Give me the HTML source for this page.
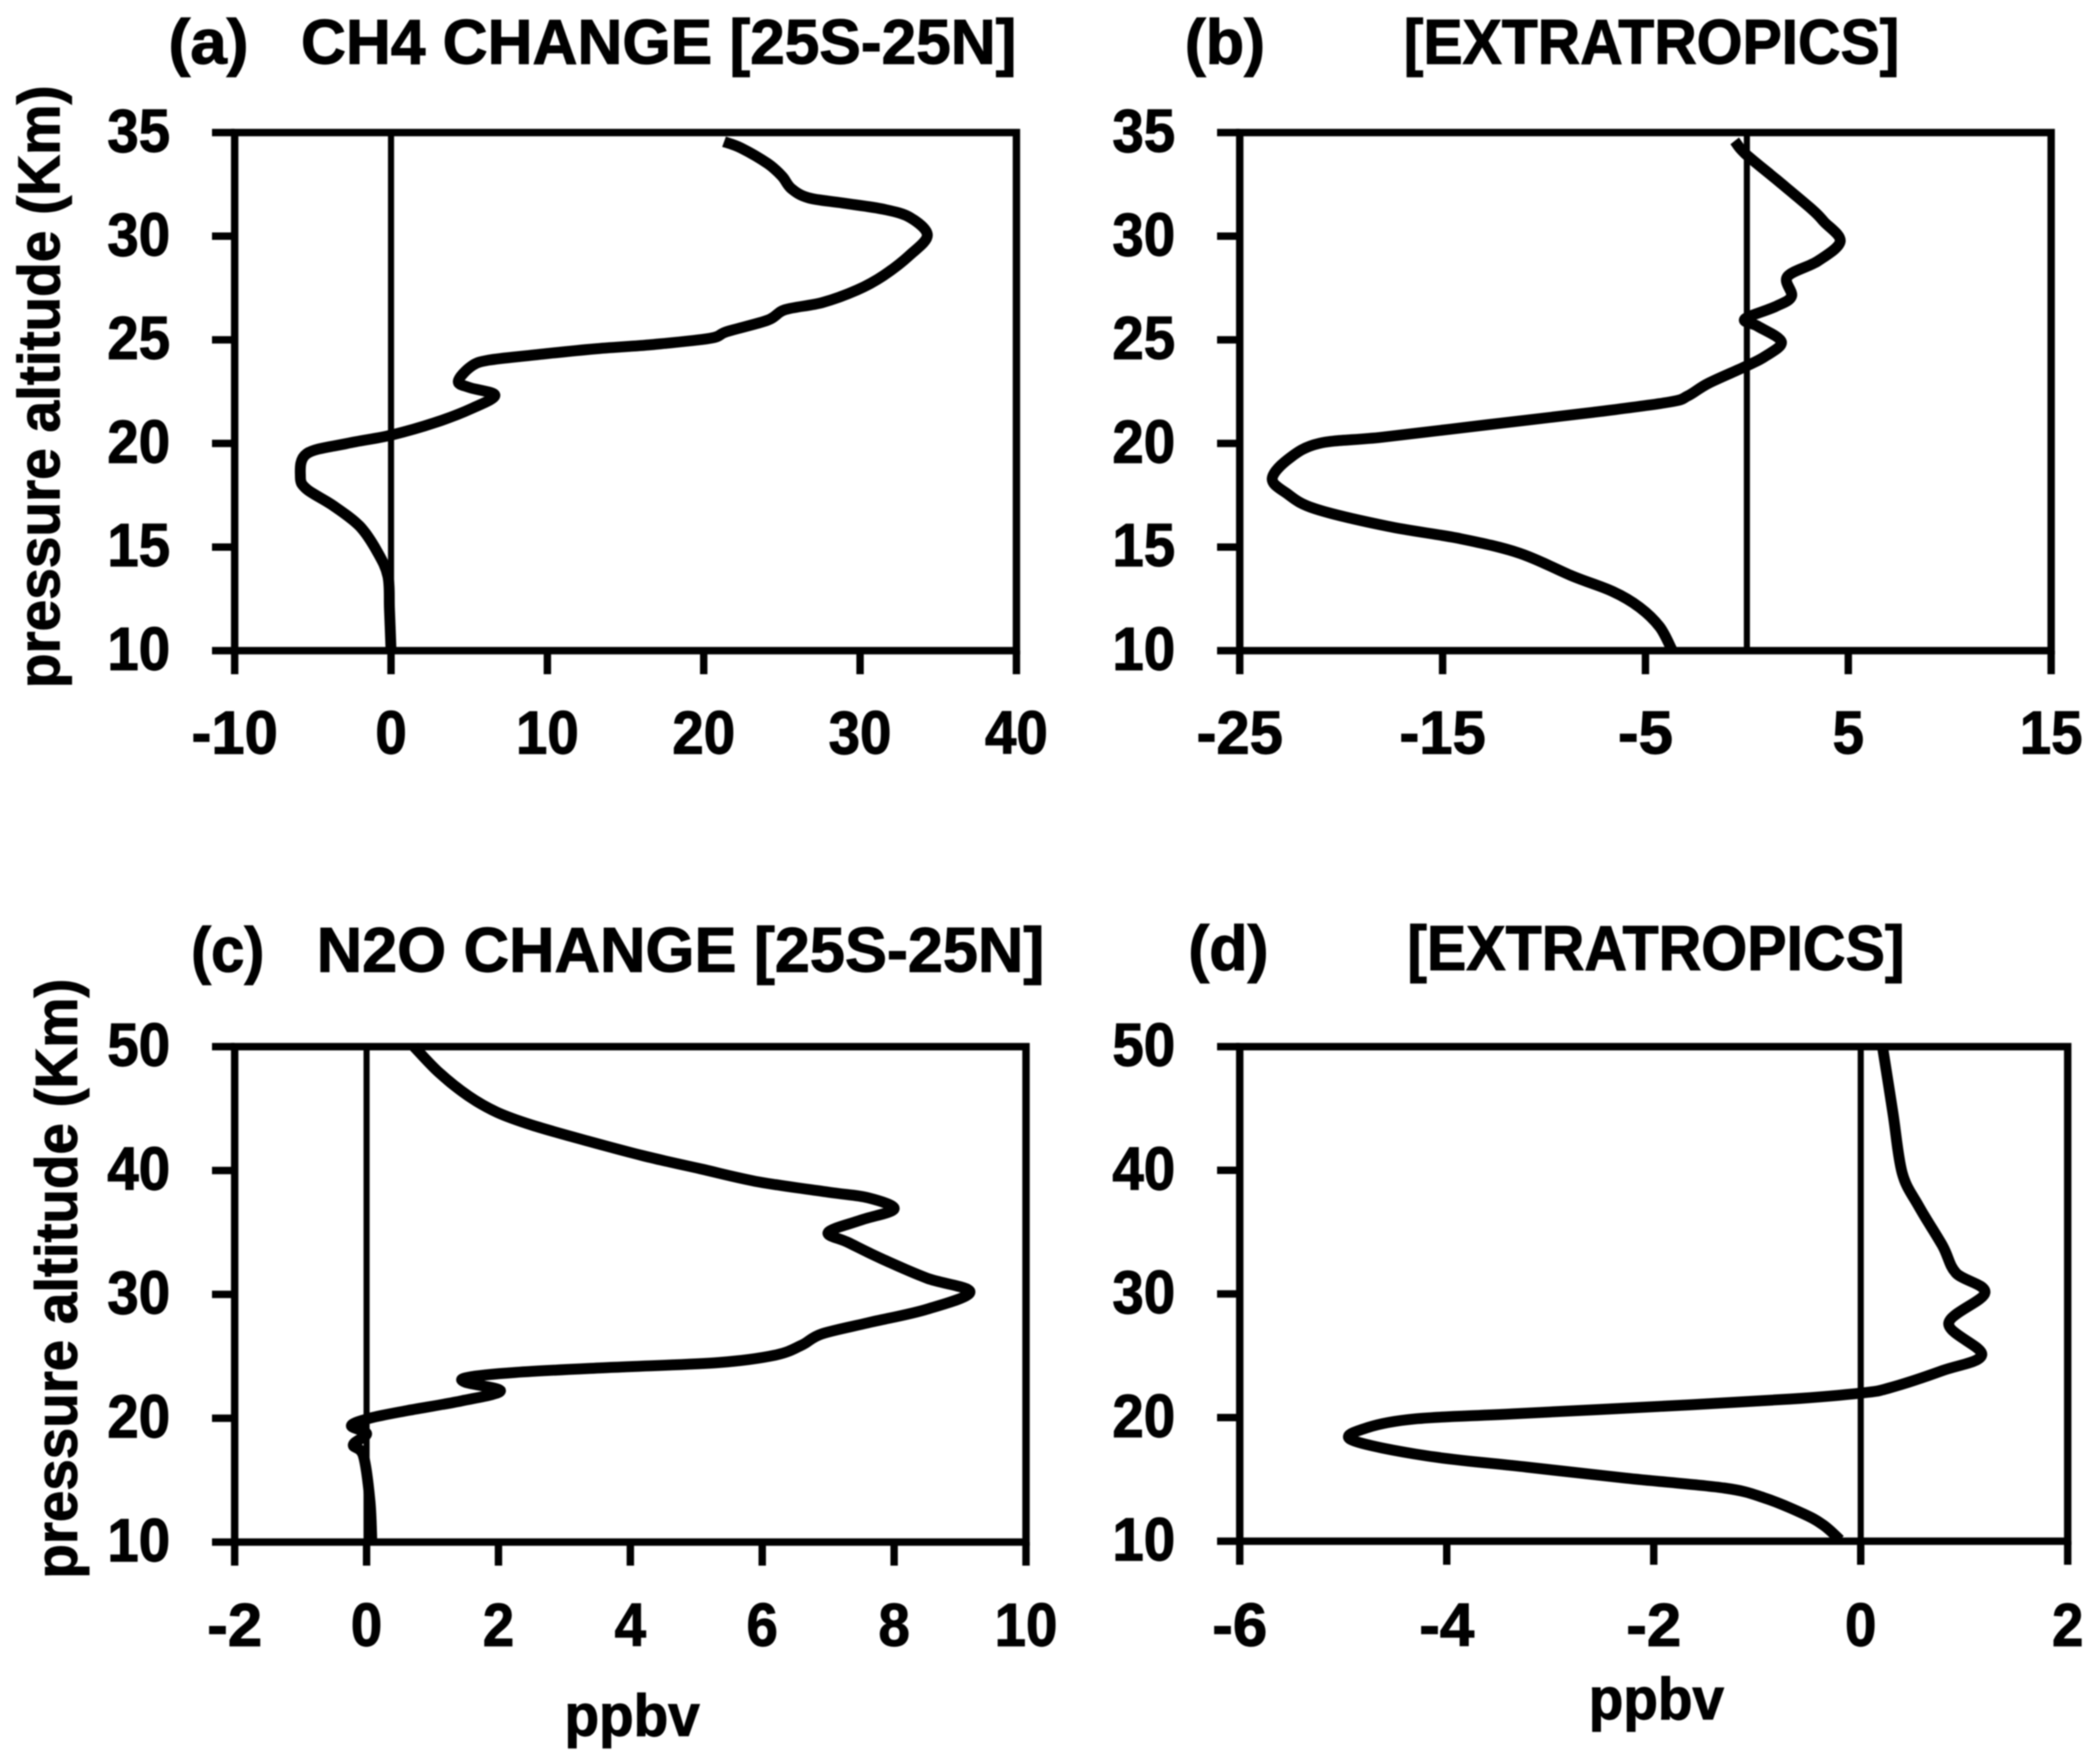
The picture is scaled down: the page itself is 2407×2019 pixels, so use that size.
<!DOCTYPE html>
<html>
<head>
<meta charset="utf-8">
<title>CH4 and N2O change profiles</title>
<style>
html,body{margin:0;padding:0;background:#fff;}
svg{display:block;filter:blur(0.7px);}
text{font-family:"Liberation Sans",sans-serif;font-weight:bold;fill:#000;stroke:#000;stroke-width:1.2px;}
</style>
</head>
<body>
<svg id="chart" xmlns="http://www.w3.org/2000/svg" width="2407" height="2019" viewBox="0 0 2407 2019">
<rect x="0" y="0" width="2407" height="2019" fill="#fff"/>
<text x="193" y="73" font-size="72" textLength="92" lengthAdjust="spacingAndGlyphs">(a)</text>
<text x="345" y="73" font-size="72" textLength="820" lengthAdjust="spacingAndGlyphs">CH4 CHANGE [25S-25N]</text>
<text x="1358" y="73" font-size="72" textLength="92" lengthAdjust="spacingAndGlyphs">(b)</text>
<text x="1609" y="73" font-size="72" textLength="568" lengthAdjust="spacingAndGlyphs">[EXTRATROPICS]</text>
<text x="219" y="1114" font-size="72" textLength="84" lengthAdjust="spacingAndGlyphs">(c)</text>
<text x="363" y="1114" font-size="72" textLength="834" lengthAdjust="spacingAndGlyphs">N2O CHANGE [25S-25N]</text>
<text x="1362" y="1112" font-size="72" textLength="92" lengthAdjust="spacingAndGlyphs">(d)</text>
<text x="1613" y="1112" font-size="72" textLength="570" lengthAdjust="spacingAndGlyphs">[EXTRATROPICS]</text>
<text transform="translate(68,789) rotate(-90)" font-size="68" textLength="691" lengthAdjust="spacingAndGlyphs">pressure altitude (Km)</text>
<text transform="translate(88,1810) rotate(-90)" font-size="68" textLength="688" lengthAdjust="spacingAndGlyphs">pressure altitude (Km)</text>
<text x="647" y="1990" font-size="68" textLength="155" lengthAdjust="spacingAndGlyphs">ppbv</text>
<text x="1821" y="1971" font-size="68" textLength="155" lengthAdjust="spacingAndGlyphs">ppbv</text>
</svg>
<script>
var ticksXA = [-10, 0, 10, 20, 30, 40];
var ticksYA = [10, 15, 20, 25, 30, 35];
var altitudeA = [34.56, 34.25, 33.5, 32.9, 32.3, 31.85, 31.6, 31.3, 30.9, 30.05, 29.1, 28.1, 27.4, 26.8, 26.45, 25.95, 25.4, 25.07, 24.77, 24.56, 24.27, 24.02, 23.72, 23, 22.7, 22.33, 21.7, 21, 20.4, 20, 19.5, 18.4, 17.8, 17, 16, 14.8, 13.6, 12, 10];
var valueA = [21.3, 22.4, 24.1, 25, 25.6, 26.7, 28.9, 31.5, 33.2, 34.3, 33.2, 31.5, 29.8, 27.6, 25.2, 24.1, 21.5, 20.4, 16.7, 12.95, 9.2, 6.25, 5.13, 4.3, 5, 6.64, 5.2, 2.8, 0, -2.8, -5.4, -5.8, -5.4, -3.7, -2, -0.9, -0.2, -0.1, 0];

var ticksXB = [-25, -15, -5, 5, 15];
var ticksYB = [10, 15, 20, 25, 30, 35];
var altitudeB = [34.6, 34, 32.7, 31.3, 30.7, 29.75, 28.8, 28.05, 27.1, 26.6, 26, 25.65, 24.9, 24.2, 23.7, 22.9, 22.3, 22, 21.5, 20.9, 20.3, 20, 19.25, 18.3, 17.6, 16.85, 16, 15.4, 14.7, 13.6, 12.85, 12.1, 11.15, 10.05];
var valueB = [-0.6, -0.1, 1.5, 3.2, 3.8, 4.6, 3.5, 2, 2.2, 1.4, -0.1, 0.55, 1.7, 0.9, -0.1, -1.9, -2.9, -3.8, -7.6, -12.8, -18, -21.1, -22.6, -23.4, -22.7, -21.3, -17.7, -14.1, -11.2, -8.6, -6.6, -5.3, -4.3, -3.7];

var ticksXC = [-2, 0, 2, 4, 6, 8, 10];
var ticksYC = [10, 20, 30, 40, 50];
var altitudeC = [50, 47.9, 46, 44.7, 43.66, 42.46, 41.2, 40.14, 39.08, 38.25, 37.8, 36.9, 36, 35, 34.2, 32.9, 31.3, 30.2, 28.8, 27.7, 26.8, 25.9, 25.1, 24.5, 24.1, 23.7, 23.3, 22.9, 22.2, 21.4, 20.6, 20, 19.4, 18.75, 17.85, 17, 13.4, 10];
var valueC = [0.72, 1.1, 1.55, 1.98, 2.51, 3.3, 4.19, 5.06, 5.95, 7, 7.6, 8, 7.5, 7, 7.3, 7.8, 8.5, 9.15, 8.5, 7.6, 6.9, 6.6, 6.2, 5.35, 3.7, 2.26, 1.54, 1.5, 2.03, 1.44, 0.6, 0.05, -0.23, 0, -0.2, -0.05, 0.05, 0.08];

var ticksXD = [-6, -4, -2, 0, 2];
var ticksYD = [10, 20, 30, 40, 50];
var altitudeD = [50, 44.7, 39.8, 37.1, 33.9, 31.7, 30.1, 27.6, 25.1, 23.8, 22.4, 22, 21.5, 20.9, 20.3, 19.9, 19.2, 18.2, 16.9, 16, 15.1, 14.3, 13.5, 12.2, 11.3, 10.1];
var valueD = [0.21, 0.31, 0.4, 0.56, 0.79, 0.92, 1.2, 0.85, 1.17, 0.79, 0.28, 0.02, -0.68, -1.95, -3.36, -4.3, -4.76, -4.92, -4.19, -3.23, -2.27, -1.32, -0.93, -0.55, -0.36, -0.2];

var SVG_NS = 'http://www.w3.org/2000/svg';
var chart = document.getElementById('chart');

function make(tag, attrs) {
  var el = document.createElementNS(SVG_NS, tag);
  for (var k in attrs) { el.setAttribute(k, attrs[k]); }
  return el;
}

function labelWidth(label) {
  var s = String(label);
  var w = 0;
  for (var i = 0; i < s.length; i++) { w += s[i] === '-' ? 27 : 36; }
  return w;
}

function drawPanel(id, box, ticksX, ticksY, values, altitudes, xLabelBase) {
  var xMin = ticksX[0], xMax = ticksX[ticksX.length - 1];
  var yMin = ticksY[0], yMax = ticksY[ticksY.length - 1];
  function sx(v) { return box.left + (v - xMin) / (xMax - xMin) * (box.right - box.left); }
  function sy(v) { return box.bottom - (v - yMin) / (yMax - yMin) * (box.bottom - box.top); }

  var frame = make('rect', {x: box.left, y: box.top, width: box.right - box.left, height: box.bottom - box.top, fill: 'none', stroke: '#000', 'stroke-width': 8.5});
  
  
  chart.appendChild(frame);

  var zero = make('line', {x1: sx(0), x2: sx(0), y1: box.top, y2: box.bottom, stroke: '#000', 'stroke-width': 7});
  
  
  chart.appendChild(zero);

  ticksX.forEach(function (t) {
    var tick = make('line', {x1: sx(t), x2: sx(t), y1: box.bottom, y2: box.bottom + 27, stroke: '#000', 'stroke-width': 8.5});
    
    
    chart.appendChild(tick);
    var label = make('text', {x: sx(t), y: xLabelBase, 'font-size': 70, 'text-anchor': 'middle', textLength: labelWidth(t), lengthAdjust: 'spacingAndGlyphs'});
    label.textContent = String(t);
    
    
    chart.appendChild(label);
  });

  ticksY.forEach(function (t) {
    var tick = make('line', {x1: box.left - 26, x2: box.left, y1: sy(t), y2: sy(t), stroke: '#000', 'stroke-width': 8.5});
    
    
    chart.appendChild(tick);
    var label = make('text', {x: box.left - 74, y: sy(t) + 22, 'font-size': 70, 'text-anchor': 'end', textLength: labelWidth(t), lengthAdjust: 'spacingAndGlyphs'});
    label.textContent = String(t);
    
    
    chart.appendChild(label);
  });

  var pts = values.map(function (v, i) { return [sx(v), sy(altitudes[i])]; });
  var d = 'M' + pts[0][0].toFixed(1) + ' ' + pts[0][1].toFixed(1);
  for (var i = 0; i < pts.length - 1; i++) {
    var p0 = pts[Math.max(i - 1, 0)], p1 = pts[i], p2 = pts[i + 1], p3 = pts[Math.min(i + 2, pts.length - 1)];
    var c1x = p1[0] + (p2[0] - p0[0]) / 6, c1y = p1[1] + (p2[1] - p0[1]) / 6;
    var c2x = p2[0] - (p3[0] - p1[0]) / 6, c2y = p2[1] - (p3[1] - p1[1]) / 6;
    d += 'C' + c1x.toFixed(1) + ' ' + c1y.toFixed(1) + ' ' + c2x.toFixed(1) + ' ' + c2y.toFixed(1) + ' ' + p2[0].toFixed(1) + ' ' + p2[1].toFixed(1);
  }
  var curve = make('path', {d: d, fill: 'none', stroke: '#000', 'stroke-width': 12.5, 'stroke-linejoin': 'round', 'stroke-linecap': 'butt'});
  
  
  chart.appendChild(curve);
}

drawPanel('a', {left: 269, right: 1165, top: 152, bottom: 746}, ticksXA, ticksYA, valueA, altitudeA, 864);
drawPanel('b', {left: 1421, right: 2351, top: 152, bottom: 746}, ticksXB, ticksYB, valueB, altitudeB, 864);
drawPanel('c', {left: 269, right: 1176, top: 1200, bottom: 1768}, ticksXC, ticksYC, valueC, altitudeC, 1887);
drawPanel('d', {left: 1421, right: 2370, top: 1200, bottom: 1767}, ticksXD, ticksYD, valueD, altitudeD, 1887);
</script>
</body>
</html>
